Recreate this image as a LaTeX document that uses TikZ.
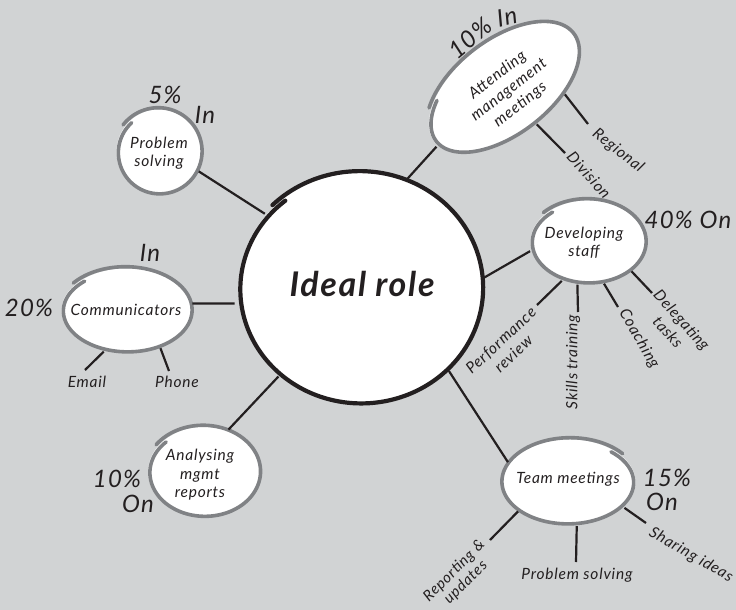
\documentclass[tikz,border=0pt]{standalone}
\usepackage{fontspec}
\setmainfont{Lato}[LetterSpace=5]
\usetikzlibrary{shapes.geometric}
\definecolor{bg}{HTML}{D1D3D4}
\definecolor{ink}{HTML}{231F20}
\definecolor{ring}{HTML}{808285}
\tikzset{
  bubble/.style={shape=ellipse,fill=white,inner sep=0pt,outer sep=1.8pt},
  link/.style={draw=ink,line width=2.2pt},
  txt/.style={text=ink,font=\itshape\fontsize{15.5}{18.5}\selectfont,align=center,inner sep=0pt},
  big/.style={text=ink,font=\itshape\fontsize{24}{27}\selectfont,align=left,inner sep=0pt},
  ringline/.style={draw=ring,line width=3.6pt,line cap=round},
  coreline/.style={draw=ink,line width=4.2pt,line cap=round}
}
% cx cy a b rot start dir overlap style
\newcommand\spiralring[9]{%
  \draw[#9,shift={(#1,#2)},rotate=#5] plot[domain=0:360+#8,samples=200,variable=\s]
    ({(#3+5*(0.5-\s/(360+#8)))*cos(#6+#7*\s)},{(#4+5*(0.5-\s/(360+#8)))*sin(#6+#7*\s)});}
\begin{document}
\begin{tikzpicture}[x=1pt,y=-1pt]
\fill[bg] (0,0) rectangle (736,610);
\useasboundingbox (0,0) rectangle (736,610);
% bubbles
\node[bubble,minimum width=244pt,minimum height=231pt,outer sep=2pt] (core) at (360.5,288.5) {};
\node[bubble,minimum width=176pt,minimum height=94pt,rotate=38] (attend) at (504,88) {};
\node[bubble,minimum width=115pt,minimum height=83pt] (devel) at (588,242) {};
\node[bubble,minimum width=133pt,minimum height=85pt] (team) at (569,482) {};
\node[bubble,minimum width=85pt,minimum height=85pt] (probl) at (159,152) {};
\node[bubble,minimum width=130pt,minimum height=84pt] (comm) at (126.5,310.5) {};
\node[bubble,minimum width=112pt,minimum height=90pt] (analy) at (204,472) {};
\spiralring{360.5}{288.5}{122}{115.5}{0}{225}{1}{6}{coreline}
\spiralring{504}{88}{88}{47}{38}{218}{1}{7}{ringline}
\spiralring{588}{242}{57.5}{41.5}{0}{222}{1}{8}{ringline}
\spiralring{569}{482}{66.5}{42.5}{0}{321}{-1}{10}{ringline}
\spiralring{159}{152}{42.5}{42.5}{0}{217}{1}{10}{ringline}
\spiralring{126.5}{310.5}{65}{42}{0}{218}{1}{10}{ringline}
\spiralring{204}{472}{56}{45}{0}{215}{1}{10}{ringline}
% free ends
\coordinate (regE) at (588,124);
\coordinate (divE) at (565,153);
\coordinate (perE) at (537,305);
\coordinate (skiE) at (578,312);
\coordinate (coaE) at (618,307);
\coordinate (delE) at (652,293);
\coordinate (repE) at (490,540);
\coordinate (sloE) at (576,562);
\coordinate (shaE) at (646,523);
\coordinate (emaE) at (85,370);
\coordinate (phoE) at (169,371);
% connectors
\draw[link] (core.67.6) -- (attend.183.8);
\draw[link] (core.5.8) -- (devel.189.9);
\draw[link] (core.-43.8) -- (team.162.7);
\draw[link] (core.142.4) -- (probl.-26.6);
\draw[link,shorten <=3pt] (core.187.4) -- (comm.6.2);
\draw[link] (core.227.2) -- (analy.60.7);
\draw[link] (attend.-44.5) -- (regE);
\draw[link] (attend.-86.6) -- (divE);
\draw[link] (devel.236.3) -- (perE);
\draw[link] (devel.256.3) -- (skiE);
\draw[link] (devel.-69.9) -- (coaE);
\draw[link] (devel.-34.6) -- (delE);
\draw[link] (team.210.8) -- (repE);
\draw[link] (team.-80.5) -- (sloE);
\draw[link] (team.-25.7) -- (shaE);
\draw[link] (comm.241.4) -- (emaE);
\draw[link] (comm.-48.9) -- (phoE);
% texts
\node[txt,font=\itshape\bfseries\fontsize{34}{38}\selectfont] (tcore) at (362,284) {Ideal role};
\node[txt,rotate=38] (tattend) at (509,90) {Attending\\management\\meetings};
\node[big,rotate=40] (pa) at (470,38) {10\%};
\node[big,rotate=12] (pb) at (507,17) {In};
\node[txt,rotate=-38] (treg) at (618,151) {Regional};
\node[txt,rotate=-48] (tdiv) at (589,175) {Division};
\node[txt] (tdev) at (584,243) {Developing\\staff};
\node[big] (pc) at (688,220) {40\% On};
\node[txt,rotate=43] (tper) at (507,347) {Performance\\review};
\node[txt,rotate=90] (tski) at (573,362) {Skills training};
\node[txt,rotate=-60] (tcoa) at (639,339) {Coaching};
\node[txt,rotate=-48] (tdel) at (675,326) {Delegating\\tasks};
\node[txt] (tteam) at (568,479) {Team meetings};
\node[big] (pd) at (667,478) {15\%};
\node[big] (pe) at (662,502) {On};
\node[txt,rotate=45,font=\itshape\fontsize{15}{16.5}\selectfont] (trep) at (460,577) {Reporting \&\\updates};
\node[txt] (tslo) at (577,575) {Problem solving};
\node[txt,rotate=-30] (tsha) at (691,555) {Sharing ideas};
\node[big] (pf) at (165,95) {5\%};
\node[big] (pg) at (205,115) {In};
\node[txt] (tpro) at (159,153) {Problem\\solving};
\node[big] (ph) at (150,253) {In};
\node[big] (pi) at (29,308) {20\%};
\node[txt] (tcom) at (126,310) {Communicators};
\node[txt] (tema) at (87,382) {Email};
\node[txt] (tpho) at (177,382) {Phone};
\node[txt] (tana) at (200,475) {Analysing\\mgmt\\reports};
\node[big] (pj) at (117,479) {10\%};
\node[big] (pk) at (138,504) {On};
\end{tikzpicture}
\end{document}
